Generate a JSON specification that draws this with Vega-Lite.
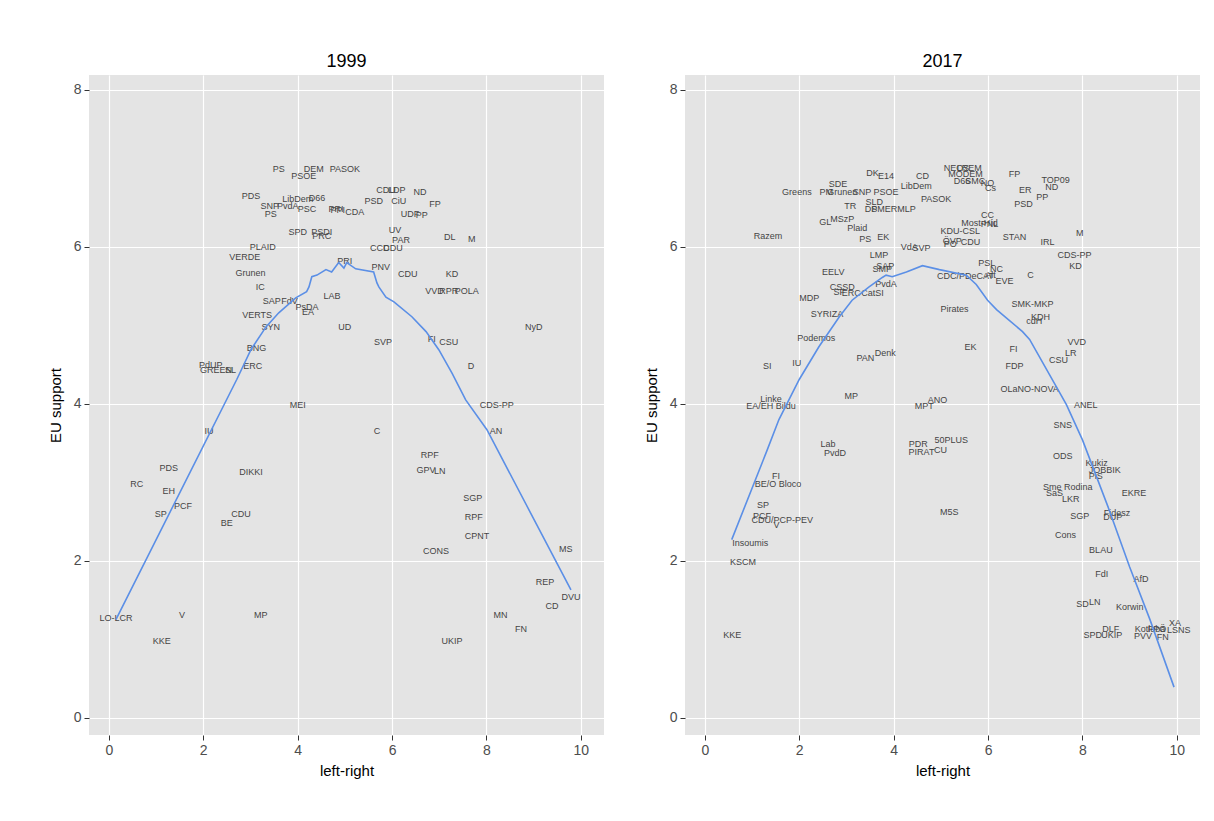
{
  "$schema": "https://vega.github.io/schema/vega-lite/v6.json",
  "background": "white",
  "padding": {"left": 48, "top": 53, "right": 5, "bottom": 5},
  "config": {
    "font": "Liberation Sans",
    "view": {"fill": "#E4E4E4", "stroke": null},
    "axis": {"grid": true, "gridColor": "#FFFFFF", "gridWidth": 1.2, "domain": false, "tickColor": "#333333", "tickSize": 5, "labelColor": "#4D4D4D", "labelFontSize": 14, "labelPadding": 3, "titleFontSize": 15, "titleFontWeight": "normal", "titleColor": "#000000"},
    "title": {"fontSize": 18, "fontWeight": "normal", "anchor": "middle", "offset": 4, "color": "#000000"},
    "concat": {"spacing": 40}
  },
  "datasets": {
    "parties": [
      {"year": 1999, "party": "PS", "lr": 3.6, "eu": 6.99},
      {"year": 1999, "party": "DEM", "lr": 4.34, "eu": 6.99},
      {"year": 1999, "party": "PSOE", "lr": 4.13, "eu": 6.9},
      {"year": 1999, "party": "PASOK", "lr": 5.0, "eu": 6.99},
      {"year": 1999, "party": "PDS", "lr": 3.01, "eu": 6.65},
      {"year": 1999, "party": "SNP", "lr": 3.41, "eu": 6.52},
      {"year": 1999, "party": "PvdA", "lr": 3.79, "eu": 6.52},
      {"year": 1999, "party": "LibDem", "lr": 4.0, "eu": 6.61},
      {"year": 1999, "party": "D66", "lr": 4.41, "eu": 6.62},
      {"year": 1999, "party": "PS", "lr": 3.43, "eu": 6.42},
      {"year": 1999, "party": "PSC", "lr": 4.2, "eu": 6.48},
      {"year": 1999, "party": "PRI", "lr": 4.81, "eu": 6.48},
      {"year": 1999, "party": "PPI", "lr": 4.85, "eu": 6.47},
      {"year": 1999, "party": "CDA", "lr": 5.21, "eu": 6.45},
      {"year": 1999, "party": "PSD", "lr": 5.61, "eu": 6.59},
      {"year": 1999, "party": "CDU", "lr": 5.87, "eu": 6.73},
      {"year": 1999, "party": "LDP", "lr": 6.1, "eu": 6.73},
      {"year": 1999, "party": "CiU", "lr": 6.14, "eu": 6.58},
      {"year": 1999, "party": "ND", "lr": 6.59, "eu": 6.7},
      {"year": 1999, "party": "FP", "lr": 6.91, "eu": 6.55},
      {"year": 1999, "party": "UDF", "lr": 6.38, "eu": 6.42},
      {"year": 1999, "party": "PP", "lr": 6.63, "eu": 6.41},
      {"year": 1999, "party": "SPD", "lr": 4.0, "eu": 6.19},
      {"year": 1999, "party": "PSDI", "lr": 4.51, "eu": 6.19},
      {"year": 1999, "party": "PRC", "lr": 4.51, "eu": 6.14},
      {"year": 1999, "party": "UV", "lr": 6.06, "eu": 6.22},
      {"year": 1999, "party": "PAR", "lr": 6.19, "eu": 6.09},
      {"year": 1999, "party": "DL", "lr": 7.22, "eu": 6.13},
      {"year": 1999, "party": "M", "lr": 7.69, "eu": 6.1},
      {"year": 1999, "party": "CCD", "lr": 5.74, "eu": 5.99},
      {"year": 1999, "party": "CDU", "lr": 6.02, "eu": 5.99},
      {"year": 1999, "party": "PLAID", "lr": 3.26, "eu": 6.0},
      {"year": 1999, "party": "VERDE", "lr": 2.88, "eu": 5.87},
      {"year": 1999, "party": "Grunen", "lr": 3.0, "eu": 5.67},
      {"year": 1999, "party": "IC", "lr": 3.21, "eu": 5.49},
      {"year": 1999, "party": "SAP", "lr": 3.45, "eu": 5.31},
      {"year": 1999, "party": "FdV", "lr": 3.83, "eu": 5.31},
      {"year": 1999, "party": "PsDA", "lr": 4.2, "eu": 5.24},
      {"year": 1999, "party": "EA", "lr": 4.22, "eu": 5.17},
      {"year": 1999, "party": "LAB", "lr": 4.73, "eu": 5.38},
      {"year": 1999, "party": "VERTS", "lr": 3.14, "eu": 5.13},
      {"year": 1999, "party": "SYN", "lr": 3.43, "eu": 4.98},
      {"year": 1999, "party": "UD", "lr": 5.0, "eu": 4.98},
      {"year": 1999, "party": "BNG", "lr": 3.13, "eu": 4.71},
      {"year": 1999, "party": "PdUP", "lr": 2.16, "eu": 4.5},
      {"year": 1999, "party": "GREEN", "lr": 2.27, "eu": 4.43},
      {"year": 1999, "party": "SL", "lr": 2.58, "eu": 4.43},
      {"year": 1999, "party": "ERC", "lr": 3.05, "eu": 4.48},
      {"year": 1999, "party": "PRI", "lr": 5.0, "eu": 5.82},
      {"year": 1999, "party": "PNV", "lr": 5.76, "eu": 5.74},
      {"year": 1999, "party": "CDU", "lr": 6.33, "eu": 5.66},
      {"year": 1999, "party": "KD", "lr": 7.27, "eu": 5.66},
      {"year": 1999, "party": "VVD", "lr": 6.9, "eu": 5.44},
      {"year": 1999, "party": "RPR", "lr": 7.2, "eu": 5.44},
      {"year": 1999, "party": "POLA", "lr": 7.58, "eu": 5.44},
      {"year": 1999, "party": "NyD", "lr": 9.0, "eu": 4.98},
      {"year": 1999, "party": "SVP", "lr": 5.81, "eu": 4.79},
      {"year": 1999, "party": "FI", "lr": 6.84, "eu": 4.83},
      {"year": 1999, "party": "CSU", "lr": 7.2, "eu": 4.79},
      {"year": 1999, "party": "D", "lr": 7.67, "eu": 4.48},
      {"year": 1999, "party": "MEI", "lr": 4.0, "eu": 3.99},
      {"year": 1999, "party": "IU", "lr": 2.12, "eu": 3.66},
      {"year": 1999, "party": "PDS", "lr": 1.27, "eu": 3.18},
      {"year": 1999, "party": "DIKKI", "lr": 3.01, "eu": 3.13},
      {"year": 1999, "party": "RC", "lr": 0.59, "eu": 2.98},
      {"year": 1999, "party": "EH", "lr": 1.27, "eu": 2.89},
      {"year": 1999, "party": "PCF", "lr": 1.57, "eu": 2.7},
      {"year": 1999, "party": "SP", "lr": 1.1, "eu": 2.59},
      {"year": 1999, "party": "CDU", "lr": 2.8, "eu": 2.59},
      {"year": 1999, "party": "BE", "lr": 2.5, "eu": 2.48},
      {"year": 1999, "party": "LO-LCR", "lr": 0.15, "eu": 1.27},
      {"year": 1999, "party": "V", "lr": 1.55, "eu": 1.31},
      {"year": 1999, "party": "KKE", "lr": 1.12, "eu": 0.98},
      {"year": 1999, "party": "MP", "lr": 3.22, "eu": 1.31},
      {"year": 1999, "party": "CDS-PP", "lr": 8.22, "eu": 3.99},
      {"year": 1999, "party": "C", "lr": 5.68, "eu": 3.66},
      {"year": 1999, "party": "AN", "lr": 8.2, "eu": 3.66},
      {"year": 1999, "party": "RPF", "lr": 6.8, "eu": 3.35},
      {"year": 1999, "party": "GPV", "lr": 6.72, "eu": 3.16},
      {"year": 1999, "party": "LN", "lr": 7.01, "eu": 3.15},
      {"year": 1999, "party": "SGP", "lr": 7.71, "eu": 2.8},
      {"year": 1999, "party": "RPF", "lr": 7.73, "eu": 2.56},
      {"year": 1999, "party": "CPNT", "lr": 7.8, "eu": 2.32},
      {"year": 1999, "party": "CONS", "lr": 6.93, "eu": 2.13},
      {"year": 1999, "party": "MS", "lr": 9.68, "eu": 2.15},
      {"year": 1999, "party": "REP", "lr": 9.24, "eu": 1.73},
      {"year": 1999, "party": "DVU", "lr": 9.79, "eu": 1.54},
      {"year": 1999, "party": "CD", "lr": 9.39, "eu": 1.43},
      {"year": 1999, "party": "MN", "lr": 8.3, "eu": 1.31},
      {"year": 1999, "party": "FN", "lr": 8.73, "eu": 1.13},
      {"year": 1999, "party": "UKIP", "lr": 7.27, "eu": 0.98},

      {"year": 2017, "party": "DK", "lr": 3.55, "eu": 6.94},
      {"year": 2017, "party": "E14", "lr": 3.84, "eu": 6.9},
      {"year": 2017, "party": "SDE", "lr": 2.82, "eu": 6.8},
      {"year": 2017, "party": "Greens", "lr": 1.95, "eu": 6.7},
      {"year": 2017, "party": "PM", "lr": 2.57, "eu": 6.7},
      {"year": 2017, "party": "Grunen", "lr": 2.91, "eu": 6.7},
      {"year": 2017, "party": "SNP", "lr": 3.33, "eu": 6.7},
      {"year": 2017, "party": "PSOE", "lr": 3.84, "eu": 6.7},
      {"year": 2017, "party": "TR", "lr": 3.08, "eu": 6.52},
      {"year": 2017, "party": "SLD", "lr": 3.59, "eu": 6.57},
      {"year": 2017, "party": "DP", "lr": 3.52, "eu": 6.48},
      {"year": 2017, "party": "SMER", "lr": 3.8, "eu": 6.48},
      {"year": 2017, "party": "MLP", "lr": 4.27, "eu": 6.48},
      {"year": 2017, "party": "GL", "lr": 2.55, "eu": 6.32},
      {"year": 2017, "party": "MSzP", "lr": 2.91, "eu": 6.36},
      {"year": 2017, "party": "Plaid", "lr": 3.23, "eu": 6.24},
      {"year": 2017, "party": "PS", "lr": 3.4, "eu": 6.1},
      {"year": 2017, "party": "EK", "lr": 3.78, "eu": 6.12},
      {"year": 2017, "party": "Razem", "lr": 1.34, "eu": 6.14},
      {"year": 2017, "party": "LMP", "lr": 3.69, "eu": 5.89},
      {"year": 2017, "party": "SAP", "lr": 3.82, "eu": 5.76},
      {"year": 2017, "party": "SMP", "lr": 3.76, "eu": 5.72},
      {"year": 2017, "party": "VdA", "lr": 4.33, "eu": 6.0},
      {"year": 2017, "party": "SVP", "lr": 4.59, "eu": 5.99},
      {"year": 2017, "party": "EELV", "lr": 2.72, "eu": 5.68},
      {"year": 2017, "party": "CSSD", "lr": 2.91, "eu": 5.49},
      {"year": 2017, "party": "SF", "lr": 2.85, "eu": 5.43},
      {"year": 2017, "party": "ERC", "lr": 3.1, "eu": 5.41},
      {"year": 2017, "party": "CatSI", "lr": 3.55, "eu": 5.41},
      {"year": 2017, "party": "PvdA", "lr": 3.84, "eu": 5.53},
      {"year": 2017, "party": "MDP", "lr": 2.21, "eu": 5.35},
      {"year": 2017, "party": "SYRIZA", "lr": 2.59, "eu": 5.15},
      {"year": 2017, "party": "Podemos", "lr": 2.36, "eu": 4.84},
      {"year": 2017, "party": "PAN", "lr": 3.4, "eu": 4.59},
      {"year": 2017, "party": "Denk", "lr": 3.82, "eu": 4.65},
      {"year": 2017, "party": "SI", "lr": 1.32, "eu": 4.48},
      {"year": 2017, "party": "IU", "lr": 1.95, "eu": 4.52},
      {"year": 2017, "party": "Linke", "lr": 1.4, "eu": 4.06},
      {"year": 2017, "party": "EA/EH Bildu", "lr": 1.4, "eu": 3.97},
      {"year": 2017, "party": "MP", "lr": 3.1, "eu": 4.1},
      {"year": 2017, "party": "MPT", "lr": 4.65, "eu": 3.97},
      {"year": 2017, "party": "ANO", "lr": 4.93, "eu": 4.05},
      {"year": 2017, "party": "Pirates", "lr": 5.29, "eu": 5.21},
      {"year": 2017, "party": "EK", "lr": 5.63, "eu": 4.73},
      {"year": 2017, "party": "CDC/PDeCAT", "lr": 5.52, "eu": 5.63},
      {"year": 2017, "party": "Alt", "lr": 6.05, "eu": 5.64},
      {"year": 2017, "party": "CD", "lr": 4.61, "eu": 6.9},
      {"year": 2017, "party": "LibDem", "lr": 4.48, "eu": 6.77},
      {"year": 2017, "party": "NEOS", "lr": 5.33, "eu": 7.0},
      {"year": 2017, "party": "LREM", "lr": 5.6, "eu": 7.0},
      {"year": 2017, "party": "MODEM", "lr": 5.52, "eu": 6.93},
      {"year": 2017, "party": "D66", "lr": 5.45, "eu": 6.84},
      {"year": 2017, "party": "SMC", "lr": 5.73, "eu": 6.84},
      {"year": 2017, "party": "NO", "lr": 5.99, "eu": 6.82},
      {"year": 2017, "party": "Cs", "lr": 6.05, "eu": 6.75},
      {"year": 2017, "party": "PASOK", "lr": 4.9, "eu": 6.61},
      {"year": 2017, "party": "FP", "lr": 6.56, "eu": 6.93},
      {"year": 2017, "party": "TOP09", "lr": 7.43, "eu": 6.85},
      {"year": 2017, "party": "ND", "lr": 7.35, "eu": 6.76},
      {"year": 2017, "party": "ER", "lr": 6.79, "eu": 6.73},
      {"year": 2017, "party": "PP", "lr": 7.15, "eu": 6.64},
      {"year": 2017, "party": "PSD", "lr": 6.75, "eu": 6.54},
      {"year": 2017, "party": "CC", "lr": 5.99, "eu": 6.4},
      {"year": 2017, "party": "Most-Híd", "lr": 5.82, "eu": 6.31},
      {"year": 2017, "party": "PNL", "lr": 6.03, "eu": 6.29},
      {"year": 2017, "party": "KDU-CSL", "lr": 5.41, "eu": 6.2},
      {"year": 2017, "party": "ÖVP", "lr": 5.24, "eu": 6.08},
      {"year": 2017, "party": "PO", "lr": 5.2, "eu": 6.04},
      {"year": 2017, "party": "CDU", "lr": 5.63, "eu": 6.06},
      {"year": 2017, "party": "STAN", "lr": 6.56, "eu": 6.13},
      {"year": 2017, "party": "IRL", "lr": 7.26, "eu": 6.06},
      {"year": 2017, "party": "M", "lr": 7.94, "eu": 6.18},
      {"year": 2017, "party": "CDS-PP", "lr": 7.83, "eu": 5.9},
      {"year": 2017, "party": "KD", "lr": 7.85, "eu": 5.75},
      {"year": 2017, "party": "PSL", "lr": 5.97, "eu": 5.8},
      {"year": 2017, "party": "NC", "lr": 6.18, "eu": 5.72},
      {"year": 2017, "party": "EVE", "lr": 6.35, "eu": 5.57},
      {"year": 2017, "party": "C", "lr": 6.9, "eu": 5.64},
      {"year": 2017, "party": "SMK-MKP", "lr": 6.94, "eu": 5.27},
      {"year": 2017, "party": "KDH", "lr": 7.11, "eu": 5.1},
      {"year": 2017, "party": "cdH", "lr": 6.98, "eu": 5.05},
      {"year": 2017, "party": "VVD", "lr": 7.88, "eu": 4.79},
      {"year": 2017, "party": "LR", "lr": 7.75, "eu": 4.65},
      {"year": 2017, "party": "CSU", "lr": 7.49, "eu": 4.56},
      {"year": 2017, "party": "FI", "lr": 6.54, "eu": 4.7},
      {"year": 2017, "party": "FDP", "lr": 6.56, "eu": 4.48},
      {"year": 2017, "party": "OLaNO-NOVA", "lr": 6.88, "eu": 4.19},
      {"year": 2017, "party": "ANEL", "lr": 8.07, "eu": 3.99},
      {"year": 2017, "party": "SNS", "lr": 7.58, "eu": 3.73},
      {"year": 2017, "party": "ODS", "lr": 7.58, "eu": 3.34},
      {"year": 2017, "party": "Kukiz", "lr": 8.3, "eu": 3.24},
      {"year": 2017, "party": "JOBBIK", "lr": 8.47, "eu": 3.16},
      {"year": 2017, "party": "PiS", "lr": 8.28, "eu": 3.08},
      {"year": 2017, "party": "Sme Rodina", "lr": 7.69, "eu": 2.94},
      {"year": 2017, "party": "SaS", "lr": 7.41, "eu": 2.87},
      {"year": 2017, "party": "LKR", "lr": 7.75, "eu": 2.79},
      {"year": 2017, "party": "EKRE", "lr": 9.09, "eu": 2.86},
      {"year": 2017, "party": "SGP", "lr": 7.94, "eu": 2.57},
      {"year": 2017, "party": "Fidesz", "lr": 8.73, "eu": 2.61},
      {"year": 2017, "party": "DUP", "lr": 8.64, "eu": 2.56},
      {"year": 2017, "party": "Cons", "lr": 7.64, "eu": 2.33},
      {"year": 2017, "party": "BLAU", "lr": 8.39, "eu": 2.14},
      {"year": 2017, "party": "FdI", "lr": 8.41, "eu": 1.83},
      {"year": 2017, "party": "AfD", "lr": 9.24, "eu": 1.77},
      {"year": 2017, "party": "SD", "lr": 8.0, "eu": 1.45},
      {"year": 2017, "party": "LN", "lr": 8.26, "eu": 1.48},
      {"year": 2017, "party": "Korwin", "lr": 9.0, "eu": 1.41},
      {"year": 2017, "party": "DLF", "lr": 8.6, "eu": 1.13},
      {"year": 2017, "party": "SPD", "lr": 8.22, "eu": 1.06},
      {"year": 2017, "party": "UKIP", "lr": 8.62, "eu": 1.06},
      {"year": 2017, "party": "Kotleba", "lr": 9.43, "eu": 1.13},
      {"year": 2017, "party": "FPÖ", "lr": 9.58, "eu": 1.13},
      {"year": 2017, "party": "PVV", "lr": 9.28, "eu": 1.04},
      {"year": 2017, "party": "FN", "lr": 9.7, "eu": 1.03},
      {"year": 2017, "party": "XA", "lr": 9.96, "eu": 1.21},
      {"year": 2017, "party": "LSNS", "lr": 10.04, "eu": 1.12},
      {"year": 2017, "party": "FI", "lr": 1.51, "eu": 3.08},
      {"year": 2017, "party": "BE/O Bloco", "lr": 1.55, "eu": 2.98},
      {"year": 2017, "party": "SP", "lr": 1.23, "eu": 2.71},
      {"year": 2017, "party": "PCF", "lr": 1.21, "eu": 2.57},
      {"year": 2017, "party": "CDU/PCP-PEV", "lr": 1.64, "eu": 2.52},
      {"year": 2017, "party": "V", "lr": 1.52, "eu": 2.45},
      {"year": 2017, "party": "Insoumis", "lr": 0.96, "eu": 2.23},
      {"year": 2017, "party": "KSCM", "lr": 0.81, "eu": 1.99},
      {"year": 2017, "party": "KKE", "lr": 0.58, "eu": 1.06},
      {"year": 2017, "party": "Lab", "lr": 2.61, "eu": 3.49},
      {"year": 2017, "party": "PvdD", "lr": 2.76, "eu": 3.37},
      {"year": 2017, "party": "PDR", "lr": 4.52, "eu": 3.49},
      {"year": 2017, "party": "PIRAT", "lr": 4.59, "eu": 3.38},
      {"year": 2017, "party": "50PLUS", "lr": 5.22, "eu": 3.54},
      {"year": 2017, "party": "CU", "lr": 4.99, "eu": 3.41},
      {"year": 2017, "party": "M5S", "lr": 5.18, "eu": 2.62}
    ],
    "smooth": [
      {"year": 1999, "lr": 0.15, "eu": 1.25},
      {"year": 1999, "lr": 2.71, "eu": 4.31},
      {"year": 1999, "lr": 3.01, "eu": 4.69},
      {"year": 1999, "lr": 3.33, "eu": 4.98},
      {"year": 1999, "lr": 3.6, "eu": 5.16},
      {"year": 1999, "lr": 3.96, "eu": 5.35},
      {"year": 1999, "lr": 4.19, "eu": 5.43},
      {"year": 1999, "lr": 4.24, "eu": 5.49},
      {"year": 1999, "lr": 4.3, "eu": 5.62},
      {"year": 1999, "lr": 4.41, "eu": 5.64},
      {"year": 1999, "lr": 4.6, "eu": 5.71},
      {"year": 1999, "lr": 4.72, "eu": 5.68},
      {"year": 1999, "lr": 4.87, "eu": 5.8},
      {"year": 1999, "lr": 4.98, "eu": 5.73},
      {"year": 1999, "lr": 5.04, "eu": 5.8},
      {"year": 1999, "lr": 5.23, "eu": 5.72},
      {"year": 1999, "lr": 5.61, "eu": 5.68},
      {"year": 1999, "lr": 5.68, "eu": 5.54},
      {"year": 1999, "lr": 5.72, "eu": 5.49},
      {"year": 1999, "lr": 5.87, "eu": 5.36},
      {"year": 1999, "lr": 6.04, "eu": 5.3},
      {"year": 1999, "lr": 6.42, "eu": 5.11},
      {"year": 1999, "lr": 6.72, "eu": 4.92},
      {"year": 1999, "lr": 6.99, "eu": 4.69},
      {"year": 1999, "lr": 7.27, "eu": 4.39},
      {"year": 1999, "lr": 7.56, "eu": 4.05},
      {"year": 1999, "lr": 8.01, "eu": 3.67},
      {"year": 1999, "lr": 8.9, "eu": 2.65},
      {"year": 1999, "lr": 9.79, "eu": 1.63},
      {"year": 2017, "lr": 0.57, "eu": 2.27},
      {"year": 2017, "lr": 1.32, "eu": 3.41},
      {"year": 2017, "lr": 1.57, "eu": 3.8},
      {"year": 2017, "lr": 2.0, "eu": 4.31},
      {"year": 2017, "lr": 2.42, "eu": 4.73},
      {"year": 2017, "lr": 2.85, "eu": 5.11},
      {"year": 2017, "lr": 3.12, "eu": 5.32},
      {"year": 2017, "lr": 3.48, "eu": 5.49},
      {"year": 2017, "lr": 3.76, "eu": 5.61},
      {"year": 2017, "lr": 3.84, "eu": 5.64},
      {"year": 2017, "lr": 3.97, "eu": 5.62},
      {"year": 2017, "lr": 4.27, "eu": 5.68},
      {"year": 2017, "lr": 4.61, "eu": 5.76},
      {"year": 2017, "lr": 4.97, "eu": 5.71},
      {"year": 2017, "lr": 5.54, "eu": 5.64},
      {"year": 2017, "lr": 5.75, "eu": 5.52},
      {"year": 2017, "lr": 5.99, "eu": 5.32},
      {"year": 2017, "lr": 6.18, "eu": 5.2},
      {"year": 2017, "lr": 6.73, "eu": 4.92},
      {"year": 2017, "lr": 6.88, "eu": 4.82},
      {"year": 2017, "lr": 7.52, "eu": 4.14},
      {"year": 2017, "lr": 7.66, "eu": 3.99},
      {"year": 2017, "lr": 8.0, "eu": 3.54},
      {"year": 2017, "lr": 8.54, "eu": 2.69},
      {"year": 2017, "lr": 9.0, "eu": 1.92},
      {"year": 2017, "lr": 9.43, "eu": 1.25},
      {"year": 2017, "lr": 9.94, "eu": 0.39}
    ]
  },
  "hconcat": [
    {
      "title": "1999",
      "width": 515,
      "height": 660,
      "layer": [
        {
          "data": {"name": "parties"},
          "transform": [{"filter": "datum.year == 1999"}],
          "mark": {"type": "text", "fontSize": 9, "color": "#454545", "font": "Liberation Sans"},
          "encoding": {
            "x": {"field": "lr", "type": "quantitative", "scale": {"domain": [-0.42, 10.49], "nice": false, "zero": false}, "axis": {"values": [0, 2, 4, 6, 8, 10], "format": "d", "title": "left-right", "titlePadding": 6}},
            "y": {"field": "eu", "type": "quantitative", "scale": {"domain": [-0.22, 8.19], "nice": false, "zero": false}, "axis": {"values": [0, 2, 4, 6, 8], "format": "d", "title": "EU support", "titlePadding": 10}},
            "text": {"field": "party", "type": "nominal"}
          }
        },
        {
          "data": {"name": "smooth"},
          "transform": [{"filter": "datum.year == 1999"}],
          "mark": {"type": "line", "color": "#5B8FE6", "strokeWidth": 1.6},
          "encoding": {
            "x": {"field": "lr", "type": "quantitative"},
            "y": {"field": "eu", "type": "quantitative"}
          }
        }
      ]
    },
    {
      "title": "2017",
      "width": 515,
      "height": 660,
      "layer": [
        {
          "data": {"name": "parties"},
          "transform": [{"filter": "datum.year == 2017"}],
          "mark": {"type": "text", "fontSize": 9, "color": "#454545", "font": "Liberation Sans"},
          "encoding": {
            "x": {"field": "lr", "type": "quantitative", "scale": {"domain": [-0.42, 10.49], "nice": false, "zero": false}, "axis": {"values": [0, 2, 4, 6, 8, 10], "format": "d", "title": "left-right", "titlePadding": 6}},
            "y": {"field": "eu", "type": "quantitative", "scale": {"domain": [-0.22, 8.19], "nice": false, "zero": false}, "axis": {"values": [0, 2, 4, 6, 8], "format": "d", "title": "EU support", "titlePadding": 10}},
            "text": {"field": "party", "type": "nominal"}
          }
        },
        {
          "data": {"name": "smooth"},
          "transform": [{"filter": "datum.year == 2017"}],
          "mark": {"type": "line", "color": "#5B8FE6", "strokeWidth": 1.6},
          "encoding": {
            "x": {"field": "lr", "type": "quantitative"},
            "y": {"field": "eu", "type": "quantitative"}
          }
        }
      ]
    }
  ]
}
